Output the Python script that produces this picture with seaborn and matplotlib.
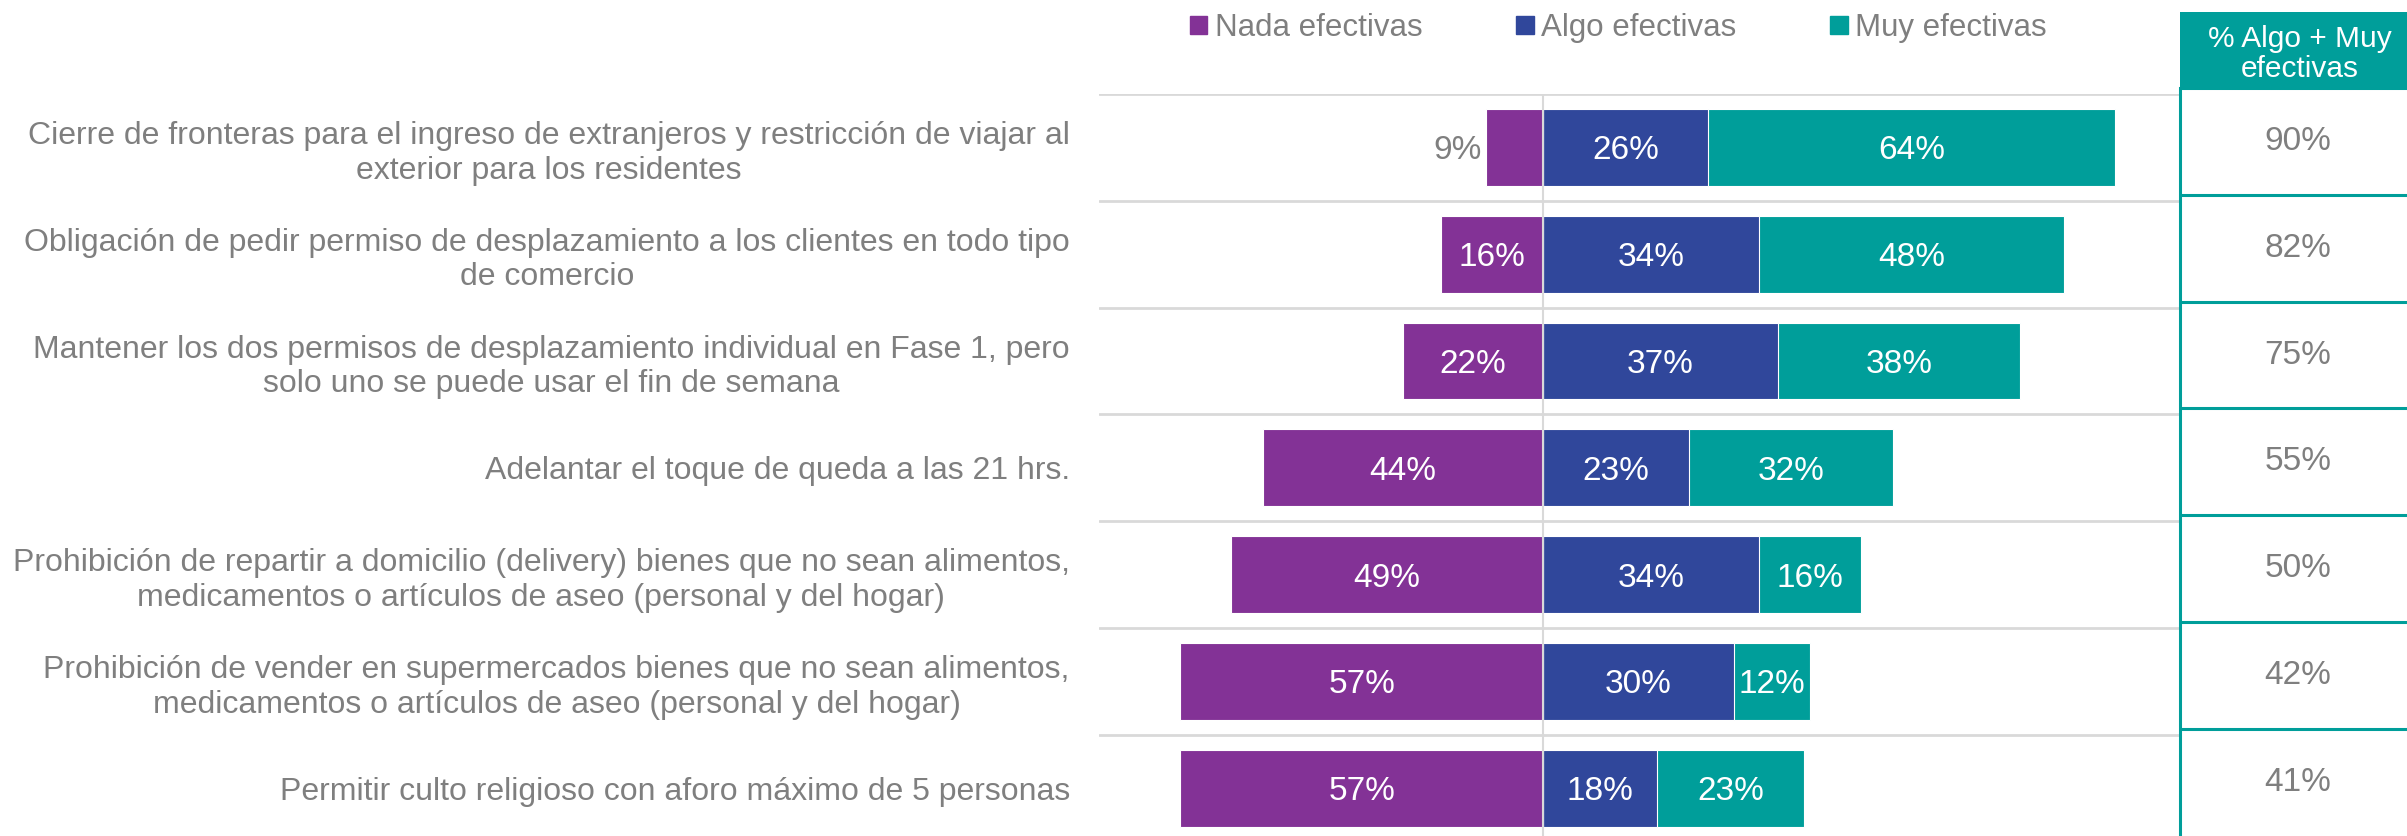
import numpy as np
import pandas as pd
import matplotlib.pyplot as plt
from matplotlib.patches import Patch, Rectangle
import seaborn as sns

# datos
categorias = [
    "Cierre de fronteras para el ingreso de extranjeros y restricción de viajar al\nexterior para los residentes",
    "Obligación de pedir permiso de desplazamiento a los clientes en todo tipo\nde comercio",
    "Mantener los dos permisos de desplazamiento individual en Fase 1, pero\nsolo uno se puede usar el fin de semana",
    "Adelantar el toque de queda a las 21 hrs.",
    "Prohibición de repartir a domicilio (delivery) bienes que no sean alimentos,\nmedicamentos o artículos de aseo (personal y del hogar)",
    "Prohibición de vender en supermercados bienes que no sean alimentos,\nmedicamentos o artículos de aseo (personal y del hogar)",
    "Permitir culto religioso con aforo máximo de 5 personas",
]
nada = [9, 16, 22, 44, 49, 57, 57]
algo = [26, 34, 37, 23, 34, 30, 18]
muy = [64, 48, 38, 32, 16, 12, 23]
algo_muy = [90, 82, 75, 55, 50, 42, 41]
series = ["Nada efectivas", "Algo efectivas", "Muy efectivas"]
header = "% Algo + Muy\nefectivas"

purple = "#833296"
blue = "#30479B"
teal = "#009E9A"
gray = "#7F7F7F"
light = "#D9D9D9"

sns.set_style("white")
plt.rcParams["font.family"] = ["Liberation Sans", "DejaVu Sans"]

df = pd.DataFrame({
    "medida": categorias,
    "nada": [-v for v in nada],
    "algo": algo,
    "algo_muy_stack": [a + m for a, m in zip(algo, muy)],
})

W, H = 2407, 836
fig = plt.figure(figsize=(W / 100, H / 100), dpi=100)
ax = fig.add_axes([1099 / W, -5.6 / H, 1081 / W, 747.6 / H])

kw = dict(data=df, y="medida", orient="h", width=0.72, saturation=1,
          edgecolor="white", linewidth=0.8, ax=ax)
sns.barplot(x="algo_muy_stack", color=teal, **kw)
sns.barplot(x="algo", color=blue, **kw)
sns.barplot(x="nada", color=purple, **kw)

ax.set_xlim(-69.8, 100.2)
ax.set_ylim(6.5, -0.5)
ax.set_xlabel("")
ax.set_ylabel("")
ax.set_xticks([])
for s in ax.spines.values():
    s.set_visible(False)
ax.set_yticks(np.arange(-0.5, 6.5, 1), minor=True)
ax.grid(axis="y", which="minor", color=light, lw=2)
ax.grid(axis="y", which="major", visible=False)
ax.tick_params(which="both", length=0)
ax.tick_params(axis="y", labelsize=23, labelcolor=gray, pad=21)
plt.setp(ax.get_yticklabels(), multialignment="center")
ax.axvline(0, color=light, lw=1.5, zorder=3)

lab = dict(ha="center", va="center_baseline", color="white", fontsize=24, zorder=4)
for i in range(len(categorias)):
    if nada[i] >= 10:
        ax.text(-nada[i] / 2, i, f"{nada[i]}%", **lab)
    else:
        ax.annotate(f"{nada[i]}%", xy=(-nada[i], i), xytext=(-3, 0),
                    textcoords="offset points", ha="right", va="center_baseline",
                    color=gray, fontsize=24)
    ax.text(algo[i] / 2, i, f"{algo[i]}%", **lab)
    ax.text(algo[i] + muy[i] / 2, i, f"{muy[i]}%", **lab)

# columna derecha
ax2 = fig.add_axes([2180 / W, 0.4 / H, 236 / W, 747.6 / H])
ax2.set_xlim(0, 1)
ax2.set_ylim(6.5, -0.5)
ax2.set_xticks([])
ax2.set_yticks([])
for k, s in ax2.spines.items():
    s.set_visible(k == "left")
ax2.spines["left"].set_color(teal)
ax2.spines["left"].set_linewidth(2.2)
for k in range(7):
    ax2.axhline(k - 0.5, color=teal, lw=2.2)
for i, v in enumerate(algo_muy):
    ax2.text(0.5, i, f"{v}%", ha="center", va="center", color=gray, fontsize=24)

fig.add_artist(Rectangle((2180 / W, (H - 88) / H), 236 / W, 76 / H,
                         transform=fig.transFigure, color=teal, lw=0))
fig.text(2300 / W, (H - 54) / H, header, ha="center", va="center",
         color="white", fontsize=21.5, linespacing=1.05)

handles = [Patch(color=c, label=s) for c, s in zip([purple, blue, teal], series)]
fig.legend(handles=handles, loc="center left", bbox_to_anchor=(1190 / W, 1 - 28 / H),
           ncol=3, frameon=False, fontsize=22.5, labelcolor=gray,
           handlelength=0.55, handleheight=0.55, handletextpad=0.25,
           columnspacing=3.0, borderpad=0, borderaxespad=0)

fig.savefig("out.png", dpi=100)
